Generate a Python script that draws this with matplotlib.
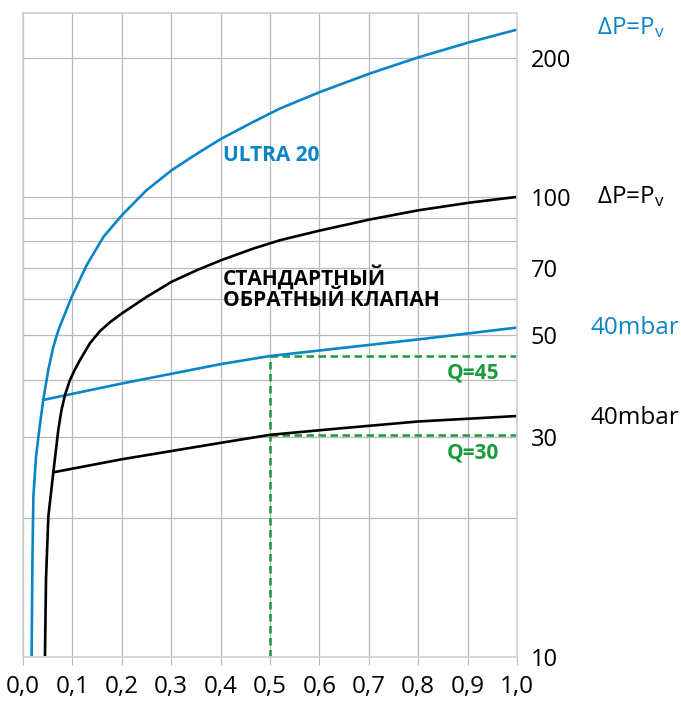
import matplotlib

matplotlib.use("Agg")
import matplotlib.pyplot as plt

plt.rcParams["font.family"] = ["Open Sans", "DejaVu Sans"]
plt.rcParams["mathtext.default"] = "regular"

# ULTRA 20, kurve delta P = Pv
ultra_x = [0.0175, 0.019, 0.021, 0.0263, 0.033, 0.041, 0.0512, 0.0614,
           0.0715, 0.0985, 0.129, 0.163, 0.200, 0.250, 0.301, 0.352, 0.402,
           0.466, 0.520, 0.601, 0.702, 0.800, 0.905, 1.0]
ultra_y = [10.1, 16.0, 22.3, 27.2, 31.2, 36.2, 42.1, 47.2, 51.3, 60.6,
           71.1, 81.9, 91.2, 103.4, 114.3, 124.1, 133.9, 145.5, 155.6, 169,
           185.4, 201, 217, 231]

# Standard-Rueckschlagventil, delta P = Pv
std_x = [0.0445, 0.0466, 0.0513, 0.0614, 0.0715, 0.0779, 0.085, 0.0951,
         0.1053, 0.1154, 0.1356, 0.1559, 0.176, 0.200, 0.250, 0.301, 0.352,
         0.402, 0.466, 0.520, 0.601, 0.702, 0.800, 0.905, 1.0]
std_y = [10.1, 14.8, 20.2, 25.2, 31.2, 34.4, 37.1, 40.0, 42.2, 44.2, 48.1,
         51.1, 53.4, 55.8, 60.6, 65.4, 69.3, 72.9, 77.2, 80.5, 84.5, 89.3,
         93.5, 97.2, 100]

# 40 mbar Linien
ultra40_x = [0.041, 0.2, 0.4, 0.5, 0.642, 0.8, 1.0]
ultra40_y = [36.2, 39.3, 43.3, 45.1, 46.9, 49.0, 52.0]
std40_x = [0.0614, 0.2, 0.4, 0.5, 0.642, 0.8, 1.0]
std40_y = [25.2, 26.9, 29.2, 30.4, 31.4, 32.5, 33.4]

# Arbeitspunkt
q_x = 0.5
q_ultra = 45.1
q_std = 30.4

x_ticks = [i / 10 for i in range(11)]
x_labels = [f"{t:.1f}".replace(".", ",") for t in x_ticks]
y_major = [10, 30, 50, 70, 100, 200]
y_minor = [20, 40, 60, 80, 90]

blau = "#0a84c6"
gruen = "#1a9a3a"
grid_farbe = "#b9b9b9"

fig = plt.figure(figsize=(6.81, 7.02), dpi=100)
ax = fig.add_axes([23 / 681, 1 - 657 / 702, 494 / 681, 644 / 702])

ax.set_yscale("log")
ax.set_xlim(0, 1.0)
ax.set_ylim(10, 251)

ax.set_yticks(y_major)
ax.set_yticklabels([str(v) for v in y_major])
ax.set_yticks(y_minor, minor=True)
ax.set_yticklabels([], minor=True)
ax.yaxis.tick_right()
ax.tick_params(axis="y", which="both", length=0, labelsize=17, pad=10)
ax.set_xticks(x_ticks)
ax.set_xticklabels(x_labels)
ax.tick_params(axis="x", length=6, color=grid_farbe, labelsize=17.5, pad=7)

ax.grid(True, which="both", color=grid_farbe, linewidth=0.9)
for s in ax.spines.values():
    s.set_color("#d0d0d0")
    s.set_linewidth(1.2)

# gruene Hilfslinien
strich = (0, (3, 1.8))
ax.plot([q_x, q_x], [10, q_ultra], color=gruen, linestyle=strich, linewidth=1.8)
ax.plot([q_x, 1.0], [q_ultra, q_ultra], color=gruen, linestyle=strich,
        linewidth=1.8)
ax.plot([q_x, 1.0], [q_std, q_std], color=gruen, linestyle=strich,
        linewidth=1.8)

ax.plot(ultra_x, ultra_y, color=blau, linewidth=1.9)
ax.plot(ultra40_x, ultra40_y, color=blau, linewidth=1.9)
ax.plot(std_x, std_y, color="black", linewidth=1.9)
ax.plot(std40_x, std40_y, color="black", linewidth=1.9)

# Beschriftungen im Diagramm
ax.text(0.405, 123, "ULTRA 20", color=blau, fontsize=15, fontweight="bold",
        va="center")
ax.text(0.405, 63.5, "СТАНДАРТНЫЙ\nОБРАТНЫЙ КЛАПАН", color="black",
        fontsize=15, fontweight="bold", va="center", linespacing=1.05)
ax.text(0.858, 41.4, "Q=45", color=gruen, fontsize=15, fontweight="bold",
        va="center")
ax.text(0.858, 27.8, "Q=30", color=gruen, fontsize=15, fontweight="bold",
        va="center")

# Beschriftungen rechts
ax.text(1.162, 233, r"ΔP=P$_\mathregular{v}$", color=blau, fontsize=17.5,
        va="center", clip_on=False)
ax.text(1.162, 100, r"ΔP=P$_\mathregular{v}$", color="black", fontsize=17.5,
        va="center", clip_on=False)
ax.text(1.148, 51.9, "40mbar", color=blau, fontsize=17.5, va="center",
        clip_on=False)
ax.text(1.148, 33.0, "40mbar", color="black", fontsize=17.5, va="center",
        clip_on=False)

fig.savefig("out.png", dpi=100)
